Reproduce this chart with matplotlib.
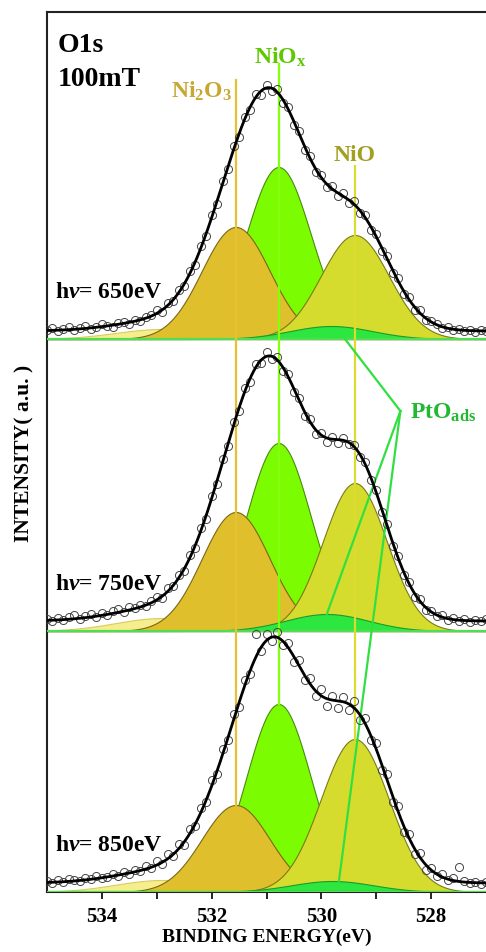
import numpy as np
import matplotlib
matplotlib.use("Agg")
import matplotlib.pyplot as plt

plt.rcParams["font.family"] = "Liberation Serif"
plt.rcParams["font.weight"] = "bold"
plt.rcParams["axes.labelweight"] = "bold"
plt.rcParams["mathtext.fontset"] = "custom"
plt.rcParams["mathtext.rm"] = "Liberation Serif:bold"
plt.rcParams["mathtext.it"] = "Liberation Serif:italic:bold"
plt.rcParams["mathtext.bf"] = "Liberation Serif:bold"

# panels, top to bottom
photon_energy = ["650eV", "750eV", "850eV"]
offsets = [553, 261, 0]
background = [8, 10, 9]

# fitted components: center (eV), height (a.u.) per panel, FWHM (eV)
ni2o3_center = 531.56
ni2o3_height = [112, 119, 87]
ni2o3_fwhm = 1.46
niox_center = 530.78
niox_height = [172, 188, 188]
niox_fwhm = 1.39
nio_center = 529.39
nio_height = [104, 148, 153]
nio_fwhm = [1.46, 1.37, 1.46]
pto_center = [529.82, 529.90, 529.80]
pto_height = [13, 17, 11]
pto_fwhm = 1.77
extra_center = 532.9
extra_height = [10, 13, 12]
extra_fwhm = 2.0

# measured O1s intensities, 535.0 -> 527.0 eV in 0.1 eV steps
energy = np.linspace(535.0, 527.0, 81)
counts_650 = [
    9, 11, 8, 10, 12, 9, 11, 13, 10, 12,
    15, 13, 12, 16, 17, 15, 19, 18, 22, 24,
    29, 27, 36, 38, 49, 53, 68, 74, 93, 103,
    124, 135, 158, 170, 193, 202, 222, 229, 245, 244,
    254, 248, 250, 236, 232, 214, 208, 189, 183, 167,
    164, 152, 153, 143, 146, 136, 138, 126, 124, 109,
    105, 88, 83, 66, 61, 45, 42, 29, 29, 19,
    18, 15, 11, 12, 9, 10, 8, 9, 7, 9, 8,
]
counts_750 = [
    12, 10, 13, 11, 14, 16, 12, 15, 17, 14,
    18, 16, 20, 22, 19, 24, 23, 26, 25, 30,
    34, 33, 43, 45, 56, 60, 76, 83, 103, 112,
    135, 147, 172, 185, 209, 220, 243, 249, 267, 268,
    279, 272, 274, 260, 257, 239, 233, 215, 212, 197,
    198, 189, 194, 188, 193, 187, 186, 174, 169, 151,
    141, 119, 107, 85, 75, 56, 49, 34, 32, 21,
    20, 15, 16, 11, 13, 10, 12, 9, 11, 10, 12,
]
counts_850 = [
    11, 9, 12, 10, 13, 12, 11, 14, 13, 16,
    14, 15, 18, 16, 20, 18, 22, 21, 26, 24,
    31, 28, 38, 36, 48, 47, 63, 66, 84, 90,
    112, 118, 143, 152, 178, 185, 212, 218, 258, 241,
    258, 251, 260, 247, 249, 230, 232, 212, 214, 196,
    203, 186, 196, 184, 195, 182, 191, 172, 174, 152,
    149, 122, 118, 90, 86, 60, 58, 38, 39, 22,
    24, 16, 18, 12, 14, 25, 11, 9, 10, 8, 10,
]
counts = [counts_650, counts_750, counts_850]


def gauss(x, c, h, fwhm):
    s = fwhm / 2.3548
    return h * np.exp(-((x - c) ** 2) / (2 * s**2))


fig = plt.figure(figsize=(4.86, 9.53), dpi=100)
ax = fig.add_axes([47 / 486, 60 / 953, 1 - 47 / 486, 880 / 953])
x = np.linspace(535.2, 526.8, 600)

for i, off in enumerate(offsets):
    comps = [
        (gauss(x, extra_center, extra_height[i], extra_fwhm), "#f6ee8c", "#d8cc60"),
        (gauss(x, niox_center, niox_height[i], niox_fwhm), "#7cfc00", "#4a8a10"),
        (gauss(x, ni2o3_center, ni2o3_height[i], ni2o3_fwhm), "#e0bf2c", "#7a6618"),
        (gauss(x, nio_center, nio_height[i], nio_fwhm[i]), "#d6dc2e", "#7a7a18"),
        (gauss(x, pto_center[i], pto_height[i], pto_fwhm), "#2ee640", "#1c9a2a"),
    ]
    for y, fc, ec in comps:
        ax.fill_between(x, off, off + y, facecolor=fc, edgecolor=ec, lw=0.8, zorder=2)
    ax.axhline(off, color="#52dc52", lw=1.6, zorder=3)

    # envelope of the fit
    fit = background[i] + sum(c[0] for c in comps)
    ax.plot(x, off + fit, color="black", lw=2, zorder=6)
    ax.plot(energy, off + np.array(counts[i]), "o", mfc="none", mec="#444444",
            ms=5.8, mew=0.7, zorder=5)
    ax.text(534.85, off + 42, r"h$\nu$= " + photon_energy[i], fontsize=17,
            ha="left", va="baseline", zorder=7)

# marker lines through the three spectra
ax.plot([ni2o3_center] * 2, [ni2o3_height[2], 812], color="#e6c232", lw=1.6, zorder=4)
ax.plot([niox_center] * 2, [niox_height[2], 828], color="#84ff10", lw=1.6, zorder=4)
ax.plot([nio_center] * 2, [nio_height[2], 726], color="#dcdc30", lw=1.6, zorder=4)
anchor = (528.56, 481)
for px, py in [(529.57, 553), (529.90, 278), (529.68, 11)]:
    ax.plot([anchor[0], px], [anchor[1], py], color="#30e040", lw=1.6, zorder=4)

ax.text(534.81, 841, "O1s", fontsize=20, ha="left", va="baseline")
ax.text(534.81, 807, "100mT", fontsize=20, ha="left", va="baseline")
ax.text(531.63, 795, r"Ni$_\mathrm{2}$O$_\mathrm{3}$", fontsize=17, color="#c8a832",
        ha="right", va="baseline")
ax.text(531.22, 829, r"NiO$_\mathrm{x}$", fontsize=17, color="#5ec800",
        ha="left", va="baseline")
ax.text(529.39, 732, "NiO", fontsize=17, color="#a2a020", ha="center", va="baseline")
ax.text(528.39, 474, r"PtO$_\mathrm{ads}$", fontsize=17, color="#22b834",
        ha="left", va="baseline")

ax.set_xlim(535, 527)
ax.set_ylim(0, 880)
ax.set_xticks([534, 532, 530, 528])
ax.set_xticks([533, 531, 529], minor=True)
ax.set_yticks([])
ax.tick_params(axis="x", which="both", direction="out", length=5, width=1.2,
               labelsize=15, pad=5)
for side in ["top", "left", "bottom"]:
    ax.spines[side].set_linewidth(1.5)
    ax.spines[side].set_color("#222222")
ax.spines["right"].set_visible(False)
ax.set_xlabel("BINDING ENERGY(eV)", fontsize=14, labelpad=1)
ax.set_ylabel("INTENSITY( a.u. )", fontsize=15.5, labelpad=9)

fig.savefig("out.png", dpi=100)
